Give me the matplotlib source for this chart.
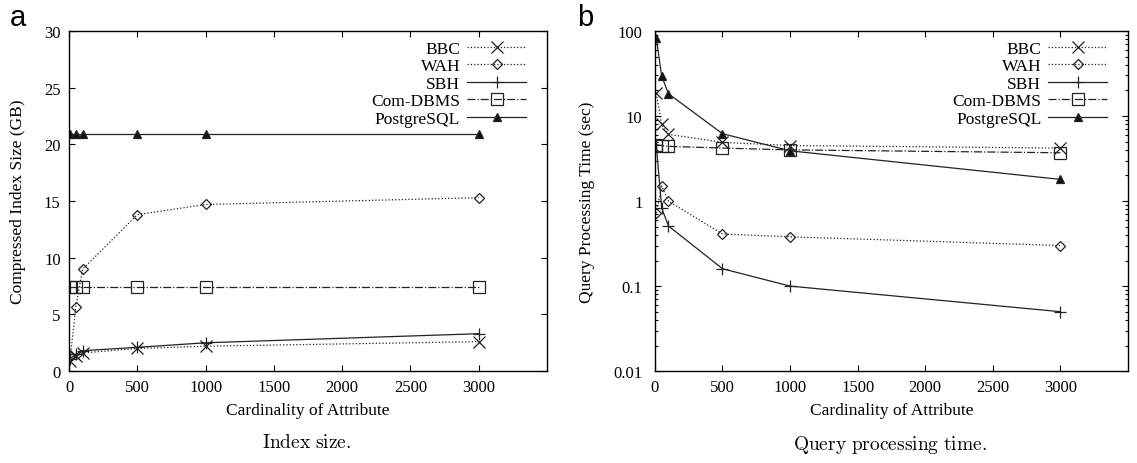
# Index size / query time vs. attribute cardinality (two panels)
import matplotlib
matplotlib.use("Agg")
import matplotlib.pyplot as plt
from matplotlib.ticker import LogLocator, NullFormatter, FixedLocator

plt.rcParams["font.family"] = ["Liberation Serif", "DejaVu Serif"]
plt.rcParams["mathtext.fontset"] = "cm"

# -----------------------------
# DATA
# -----------------------------
cardinality = [10, 50, 100, 500, 1000, 3000]
series_names = ["BBC", "WAH", "SBH", "Com-DBMS", "PostgreSQL"]

# panel a: compressed index size (GB)
size_bbc = [0.9, 1.3, 1.6, 2.0, 2.2, 2.6]
size_wah = [1.3, 5.7, 9.0, 13.8, 14.7, 15.3]
size_sbh = [1.1, 1.5, 1.8, 2.1, 2.5, 3.3]
size_com = [7.4, 7.4, 7.4, 7.4, 7.4, 7.4]
size_pg = [20.9, 20.9, 20.9, 20.9, 20.9, 20.9]

# panel b: query processing time (sec)
time_bbc = [18.5, 8.0, 6.1, 4.9, 4.5, 4.2]
time_wah = [0.72, 1.5, 1.0, 0.41, 0.38, 0.30]
time_sbh = [4.6, 0.83, 0.51, 0.16, 0.10, 0.05]
time_com = [4.6, 4.5, 4.4, 4.2, 4.0, 3.7]
time_pg = [83, 29.6, 18.3, 6.2, 3.9, 1.8]

styles = [
    dict(ls=":", marker="x", ms=8, mfc="none"),
    dict(ls=":", marker="D", ms=5, mfc="none"),
    dict(ls="-", marker="+", ms=9, mfc="none"),
    dict(ls="-.", marker="s", ms=8, mfc="none"),
    dict(ls="-", marker="^", ms=6, mfc="#111111"),
]

fig = plt.figure(figsize=(11.37, 4.64), dpi=100)
ax1 = fig.add_axes([0.0607, 0.198, 0.4203, 0.733])
ax2 = fig.add_axes([0.576, 0.198, 0.416, 0.733])


def draw(ax, data, ypad):
    for name, ys, st in zip(series_names, data, styles):
        ax.plot(cardinality, ys, color="#222222", lw=0.9, mew=0.9,
                mec="#222222", label=name, **st)
    ax.set_xlim(0, 3500)
    ax.xaxis.set_major_locator(FixedLocator([0, 500, 1000, 1500, 2000, 2500, 3000]))
    ax.tick_params(which="both", direction="in", top=True, right=True,
                   labelsize=12, width=0.8)
    ax.tick_params(axis="x", pad=6)
    ax.tick_params(axis="y", pad=ypad)
    ax.tick_params(which="major", length=4)
    ax.tick_params(which="minor", length=2)
    for s in ax.spines.values():
        s.set_linewidth(1.0)
    ax.set_xlabel("Cardinality of Attribute", fontsize=12.5, labelpad=5)
    ax.legend(loc="upper right", bbox_to_anchor=(0.982, 1.008), frameon=False,
              markerfirst=False, fontsize=12.5, handlelength=3.4,
              labelspacing=0.08, handletextpad=0.4, borderpad=0.2)


draw(ax1, [size_bbc, size_wah, size_sbh, size_com, size_pg], 6)
ax1.set_ylim(0, 30)
ax1.set_yticks([0, 5, 10, 15, 20, 25, 30])
ax1.set_ylabel("Compressed Index Size (GB)", fontsize=12.5, labelpad=13)

draw(ax2, [time_bbc, time_wah, time_sbh, time_com, time_pg], 9)
ax2.set_yscale("log")
ax2.set_ylim(0.01, 100)
ax2.yaxis.set_major_locator(LogLocator(base=10, numticks=10))
ax2.yaxis.set_minor_locator(LogLocator(base=10, subs=range(2, 10), numticks=10))
ax2.yaxis.set_minor_formatter(NullFormatter())
ax2.set_yticks([0.01, 0.1, 1, 10, 100])
ax2.set_yticklabels(["0.01", "0.1", "1", "10", "100"])
ax2.set_ylabel("Query Processing Time (sec)", fontsize=12.5, labelpad=13)

# panel letters and captions
fig.text(0.016, 0.962, "a", fontsize=21, family="Liberation Sans", va="center", ha="center")
fig.text(0.515, 0.962, "b", fontsize=21, family="Liberation Sans", va="center", ha="center")
fig.text(0.27, 0.045, r"$\mathrm{Index\ size.}$", fontsize=14, ha="center", va="center")
fig.text(0.783, 0.04, r"$\mathrm{Query\ processing\ time.}$", fontsize=14, ha="center", va="center")

plt.savefig("out.png", dpi=100)
